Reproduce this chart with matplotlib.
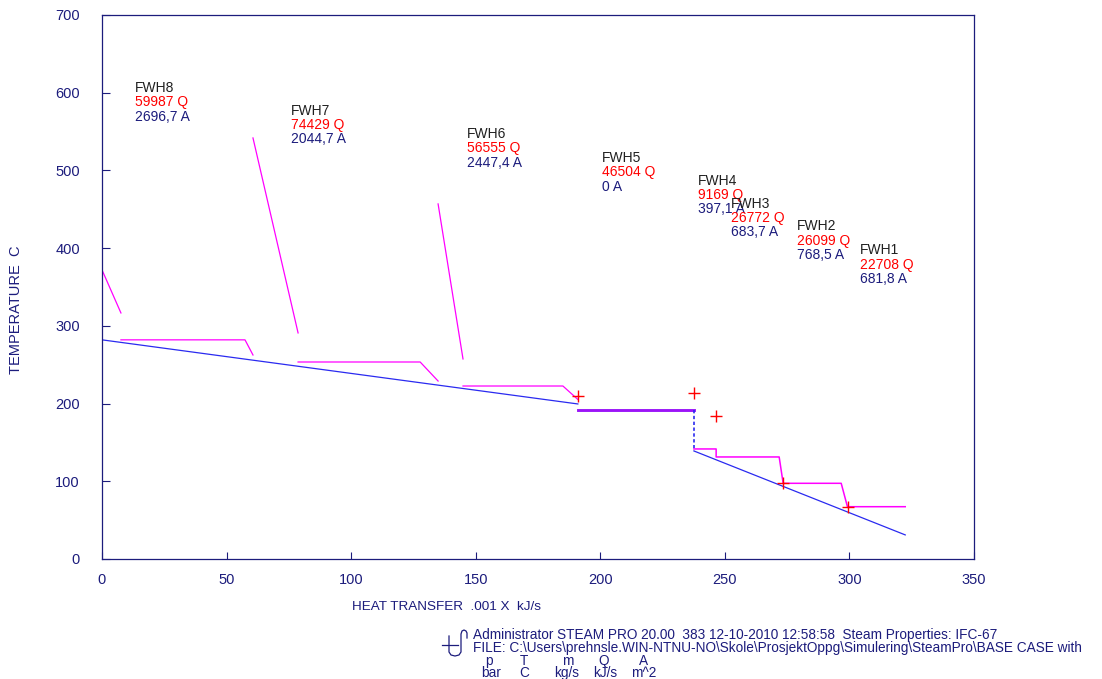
import matplotlib.pyplot as plt
import matplotlib.lines as mlines

plt.rcParams['font.family'] = ['Liberation Sans', 'DejaVu Sans']

navy = '#1c1c7c'
blue = '#2a2af0'
magenta = '#ff00ff'
red = '#ff0000'

# cold side (feedwater), heat transfer .001 x kJ/s vs temperature C
fw_hp_x = [0, 191]
fw_hp_y = [282, 199.5]
fw_dea_x = [191, 237.6]
fw_dea_y = [192, 192]
fw_jump_x = [237.6, 237.6]
fw_jump_y = [192, 139]
fw_lp_x = [237.6, 322.4]
fw_lp_y = [139, 31]

# hot side (extraction steam / drains)
steam_x = [[0, 7.6], [60.6, 78.7], [134.9, 144.9]]
steam_y = [[372, 316.6], [541.8, 290.9], [456.9, 257.4]]
drain_x = [[7.6, 57.4, 60.6], [78.7, 127.7, 134.9], [144.9, 185, 191.1]]
drain_y = [[282, 282, 262.5], [253.5, 253.5, 229], [222.6, 222.6, 205]]
lp_x = [237.6, 246.5, 246.5, 271.8, 273.4, 296.7, 299.2, 322.4]
lp_y = [141.6, 141.6, 131.3, 131.3, 97.4, 97.4, 67.3, 67.3]

# state points
pt_x = [191, 237.6, 246.5, 273.4, 299.6]
pt_y = [210, 213.6, 184, 97.8, 66.5]

# heater labels
names = ['FWH8', 'FWH7', 'FWH6', 'FWH5', 'FWH4', 'FWH3', 'FWH2', 'FWH1']
q_vals = ['59987', '74429', '56555', '46504', '9169', '26772', '26099', '22708']
a_vals = ['2696,7', '2044,7', '2447,4', '0', '397,1', '683,7', '768,5', '681,8']
lab_x = [13.2, 75.9, 146.5, 200.7, 239.3, 252.5, 279.0, 304.3]
lab_y = [606, 577, 547, 516, 487, 457, 428, 397]

fig = plt.figure(figsize=(11.02, 6.79), dpi=100)
ax = fig.add_axes([102 / 1102, 1 - 559 / 679, 872 / 1102, 544 / 679])

ax.plot(fw_hp_x, fw_hp_y, color=blue, lw=0.9)
ax.plot(fw_dea_x, fw_dea_y, color=blue, lw=2)
ax.plot(fw_dea_x, fw_dea_y, color=magenta, lw=2, alpha=0.55)
ax.plot(fw_jump_x, fw_jump_y, color=blue, lw=1.2, ls=(0, (2, 1.5)))
ax.plot(fw_lp_x, fw_lp_y, color=blue, lw=0.9)

for xs, ys in zip(steam_x, steam_y):
    ax.plot(xs, ys, color=magenta, lw=0.9)
for xs, ys in zip(drain_x, drain_y):
    ax.plot(xs, ys, color=magenta, lw=0.9)
ax.plot(lp_x, lp_y, color=magenta, lw=1.1)

ax.plot(pt_x, pt_y, ls='none', marker='+', ms=9, mew=1, color=red)

for n, q, a, x, y in zip(names, q_vals, a_vals, lab_x, lab_y):
    ax.annotate(n, (x, y), xytext=(0, 0), textcoords='offset points',
                va='center', ha='left', fontsize=10, color='#202020')
    ax.annotate(q + ' Q', (x, y), xytext=(0, -10.3), textcoords='offset points',
                va='center', ha='left', fontsize=10, color=red)
    ax.annotate(a + ' A', (x, y), xytext=(0, -20.6), textcoords='offset points',
                va='center', ha='left', fontsize=10, color=navy)

ax.set_xlim(0, 350)
ax.set_ylim(0, 700)
ax.set_xticks(range(0, 351, 50))
ax.set_yticks(range(0, 701, 100))
ax.tick_params(axis='x', direction='in', length=5, width=0.8, color=navy,
               labelcolor=navy, labelsize=10.5, pad=10)
ax.tick_params(axis='y', direction='in', length=6, width=0.8, color=navy,
               labelcolor=navy, labelsize=10.5, pad=16)
for s in ax.spines.values():
    s.set_color(navy)
    s.set_linewidth(0.9)

fig.text(16 / 1102, 1 - 310 / 679, 'TEMPERATURE  C', rotation=90,
         ha='center', va='center', fontsize=10.5, color=navy)
fig.text(352 / 1102, 1 - 607 / 679, 'HEAT TRANSFER  .001 X  kJ/s',
         ha='left', va='center', fontsize=9.7, color=navy)

# footer
fs = 9.8
fig.text(473 / 1102, 1 - 635 / 679,
         'Administrator STEAM PRO 20.00  383 12-10-2010 12:58:58  Steam Properties: IFC-67',
         ha='left', va='center', fontsize=fs, color=navy)
fig.text(473 / 1102, 1 - 648 / 679,
         'FILE: C:\\Users\\prehnsle.WIN-NTNU-NO\\Skole\\ProsjektOppg\\Simulering\\SteamPro\\BASE CASE with',
         ha='left', va='center', fontsize=fs, color=navy)
units_top = ['p', 'T', 'm', 'Q', 'A']
units_bot = ['bar', 'C', 'kg/s', 'kJ/s', 'm^2']
top_px = [489, 524, 568, 604, 644]
bot_px = [491, 524, 567, 605, 644]
for t, px in zip(units_top, top_px):
    fig.text(px / 1102, 1 - 661 / 679, t, ha='center', va='center', fontsize=fs, color=navy)
for t, px in zip(units_bot, bot_px):
    fig.text(px / 1102, 1 - 673 / 679, t, ha='center', va='center', fontsize=fs, color=navy)

# small logo glyph
W, H = 1102, 679
def fl(xs, ys):
    fig.add_artist(mlines.Line2D([x / W for x in xs], [1 - y / H for y in ys],
                                 color=navy, lw=0.9, transform=fig.transFigure))
fl([442, 458], [645, 645])
fl([449, 449, 451, 455, 459, 461, 461, 462, 464, 466, 467, 467],
   [636, 652, 655, 656, 655, 652, 634, 631, 630, 631, 633, 638])

fig.savefig('out.png', dpi=100)
